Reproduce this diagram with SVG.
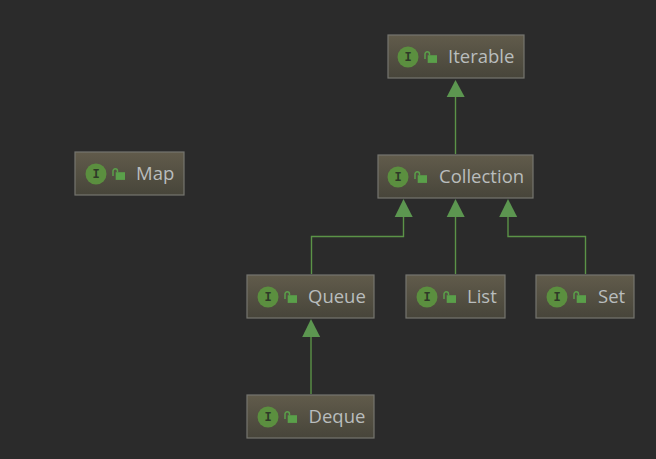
<svg xmlns="http://www.w3.org/2000/svg" width="656" height="459" viewBox="0 0 656 459">
<style>
.box{fill:url(#g);stroke:#75756f;stroke-width:1.2}
.i{fill:#5b8f3f}
.il{font:bold 12px "Liberation Mono","DejaVu Sans Mono",monospace;fill:#2f3a28;text-anchor:middle}
.lb{fill:#5aa04a}
.sh{fill:none;stroke:#5aa04a;stroke-width:1.5}
.t{font:18.500px "Open Sans","DejaVu Sans",sans-serif;fill:#b9bdbd}
.c{fill:none;stroke:#5b9347;stroke-width:1.4}
.a{fill:#5c9650}
</style>
<defs>
<linearGradient id="g" x1="0" y1="0" x2="0" y2="1"><stop offset="0" stop-color="#615b4b"/><stop offset="1" stop-color="#47453a"/></linearGradient>
<g id="ic"><circle cx="10" cy="0" r="10.500" class="i"/><text x="10" y="4" class="il">I</text><rect x="29.700" y="-1.800" width="9.300" height="7.700" class="lb"/><path d="M27 2V-3a2.200 2.200 0 0 1 4.500 0V-1.800" class="sh"/></g>
</defs>
<rect width="656" height="459" fill="#2b2b2b"/>
<g id="connectors">
<path class="c" d="M455.500 154V96"/><path class="a" d="M455.500 80L446.700 97H464.700Z"/>
<path class="c" d="M311.500 274V236.500H403.500V216"/><path class="a" d="M403.500 199L394.700 217H412.700Z"/>
<path class="c" d="M455.500 274V216"/><path class="a" d="M455.500 199L446.700 217H464.700Z"/>
<path class="c" d="M585.500 274V236.500H508V216"/><path class="a" d="M508 199L499.200 217H517.200Z"/>
<path class="c" d="M311 394V336"/><path class="a" d="M311 319L302.200 337H320.200Z"/>
</g>
<g id="iterable"><rect class="box" x="388" y="35" width="136" height="43"/><use href="#ic" x="398" y="57"/><text class="t" x="448" y="63">Iterable</text></g>
<g id="map"><rect class="box" x="75" y="152" width="109" height="43"/><use href="#ic" x="86" y="174"/><text class="t" x="136" y="180">Map</text></g>
<g id="collection"><rect class="box" x="378" y="155" width="155" height="43"/><use href="#ic" x="388" y="177"/><text class="t" x="439" y="183">Collection</text></g>
<g id="queue"><rect class="box" x="247" y="275" width="127" height="43"/><use href="#ic" x="258" y="297"/><text class="t" x="308" y="303">Queue</text></g>
<g id="list"><rect class="box" x="406" y="275" width="99" height="43"/><use href="#ic" x="417" y="297"/><text class="t" x="467" y="303">List</text></g>
<g id="set"><rect class="box" x="536" y="275" width="98" height="43"/><use href="#ic" x="547" y="297"/><text class="t" x="598" y="303">Set</text></g>
<g id="deque"><rect class="box" x="247" y="395" width="127" height="43"/><use href="#ic" x="258" y="417"/><text class="t" x="308.500" y="423">Deque</text></g>
</svg>
